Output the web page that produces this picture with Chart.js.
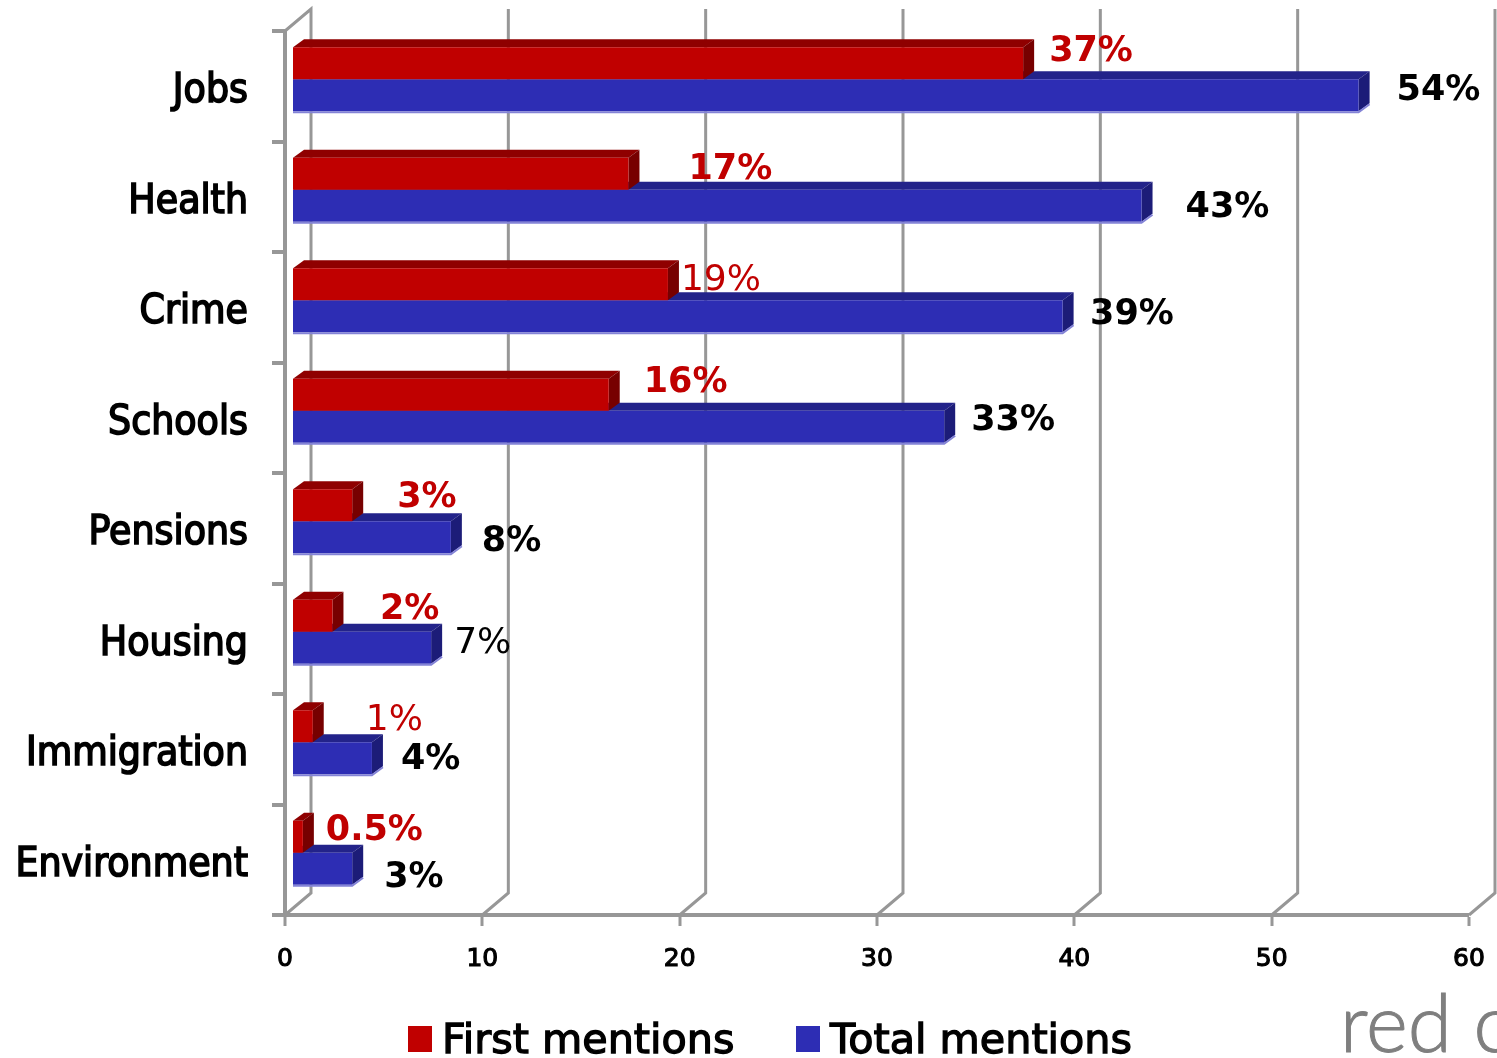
<!DOCTYPE html>
<html>
<head>
<meta charset="utf-8">
<style>
  html, body { margin: 0; padding: 0; background: #fff; overflow: hidden; }
  canvas { display: block; }
</style>
<script src="https://cdn.jsdelivr.net/npm/chart.js@4/dist/chart.umd.min.js"></script>
</head>
<body>
<canvas id="chart" width="1497" height="1058"></canvas>
<script>
// data ........................................................................
const categories = ['Jobs', 'Health', 'Crime', 'Schools', 'Pensions', 'Housing', 'Immigration', 'Environment'];
const firstMentions = [37, 17, 19, 16, 3, 2, 1, 0.5];
const totalMentions = [54, 43, 39, 33, 8, 7, 4, 3];
const xTicks = [0, 10, 20, 30, 40, 50, 60];

// where each value label sits, relative to the tip of its bar
const firstLabelShift = [[34, -18.5], [68, -11], [21, -10.5], [43, -19], [53, -14.5], [55.5, -13], [61, -12.5], [31, -13]];
const totalLabelShift = [[46, -11.5], [52, -5], [35.5, -8.5], [35, -13], [39, -2.5], [31, -11], [37, -5.5], [40, 2]];
const firstLabelPlain = [2, 6];   // these labels are not bold in the original
const totalLabelPlain = [5];

const GREY = '#979797';
const RED = '#c00000';
const BLUE = '#2d2db4';
const BAR_SHIFT = { x: 8, y: -7 };   // bars stand a little behind the front edge
const BAR_DEPTH = { x: 11, y: -8 };
const WALL_DEPTH = { x: 26, y: -22 };

// back wall lines ..............................................................
const wallPlugin = {
  id: 'wall',
  beforeDatasetsDraw(chart) {
    const { ctx, chartArea, scales } = chart;
    ctx.save();
    ctx.lineWidth = 3;
    ctx.strokeStyle = GREY;
    ctx.lineJoin = 'miter';
    xTicks.forEach(function (v) {
      const x = scales.x.getPixelForValue(v);
      ctx.beginPath();
      ctx.moveTo(x, chartArea.bottom);
      ctx.lineTo(x + WALL_DEPTH.x, chartArea.bottom + WALL_DEPTH.y);
      ctx.lineTo(x + WALL_DEPTH.x, chartArea.top + WALL_DEPTH.y);
      if (v === 0) ctx.lineTo(x, chartArea.top);
      ctx.stroke();
    });
    ctx.restore();
  }
};

// 3d faces of the bars .........................................................
const depthPlugin = {
  id: 'depth',
  beforeDatasetDraw(chart, args) {
    const ctx = chart.ctx;
    const dark = args.index === 0
      ? { top: '#8f0000', side: '#770000' }
      : { top: '#23238a', side: '#1c1c78' };
    ctx.save();
    ctx.translate(BAR_SHIFT.x, BAR_SHIFT.y);
    chart.getDatasetMeta(args.index).data.forEach(function (bar) {
      const top = bar.y - bar.height / 2;
      const low = bar.y + bar.height / 2;
      ctx.fillStyle = dark.top;
      ctx.beginPath();
      ctx.moveTo(bar.base, top);
      ctx.lineTo(bar.base + BAR_DEPTH.x, top + BAR_DEPTH.y);
      ctx.lineTo(bar.x + BAR_DEPTH.x, top + BAR_DEPTH.y);
      ctx.lineTo(bar.x, top);
      ctx.closePath();
      ctx.fill();
      ctx.fillStyle = dark.side;
      ctx.beginPath();
      ctx.moveTo(bar.x, top);
      ctx.lineTo(bar.x + BAR_DEPTH.x, top + BAR_DEPTH.y);
      ctx.lineTo(bar.x + BAR_DEPTH.x, low + BAR_DEPTH.y);
      ctx.lineTo(bar.x, low);
      ctx.closePath();
      ctx.fill();
    });
  },
  afterDatasetDraw(chart, args) {
    const ctx = chart.ctx;
    // pale lower edge on the blue bars
    if (args.index === 1) {
      ctx.strokeStyle = '#8383d6';
      ctx.lineWidth = 2;
      chart.getDatasetMeta(1).data.forEach(function (bar) {
        const low = bar.y + bar.height / 2;
        ctx.beginPath();
        ctx.moveTo(bar.base, low + 1);
        ctx.lineTo(bar.x, low + 1);
        ctx.lineTo(bar.x + BAR_DEPTH.x, low + BAR_DEPTH.y + 1);
        ctx.stroke();
      });
    }
    ctx.restore();
  }
};

// value labels .................................................................
function drawValueLabels(chart, index, values, shift, plain, color) {
  const ctx = chart.ctx;
  ctx.textAlign = 'left';
  ctx.textBaseline = 'middle';
  ctx.fillStyle = color;
  chart.getDatasetMeta(index).data.forEach(function (bar, i) {
    const isPlain = plain.indexOf(i) >= 0;
    ctx.font = (isPlain ? '' : 'bold ') + (isPlain ? '36px' : '35px') + ' "DejaVu Sans"';
    ctx.fillText(values[i] + '%', bar.x + shift[i][0], bar.y + shift[i][1]);
  });
}

const labelPlugin = {
  id: 'valueLabels',
  afterDatasetsDraw(chart) {
    const ctx = chart.ctx;
    ctx.save();
    drawValueLabels(chart, 0, firstMentions, firstLabelShift, firstLabelPlain, '#c00000');
    drawValueLabels(chart, 1, totalMentions, totalLabelShift, totalLabelPlain, '#000');
    ctx.restore();
  }
};

// legend and the cut off logo ..................................................
const footerPlugin = {
  id: 'footer',
  afterDraw(chart) {
    const ctx = chart.ctx;
    const places = [{ box: 408, text: 442 }, { box: 796, text: 830 }];
    ctx.save();
    ctx.textAlign = 'left';
    ctx.textBaseline = 'alphabetic';
    chart.data.datasets.forEach(function (ds, i) {
      ctx.fillStyle = ds.backgroundColor;
      ctx.fillRect(places[i].box, 1026, 24, 26);
      ctx.fillStyle = '#000';
      ctx.strokeStyle = '#000';
      ctx.lineWidth = 1.3;
      ctx.font = '41.3px "DejaVu Sans"';
      ctx.fillText(ds.label, places[i].text, 1053);
      ctx.strokeText(ds.label, places[i].text, 1053);
    });
    ctx.fillStyle = '#7f7f7f';
    ctx.strokeStyle = '#7f7f7f';
    ctx.lineWidth = 1;
    ctx.font = '300 80px Lato';
    ctx.fillText('red c', 1340, 1052);
    ctx.strokeText('red c', 1340, 1052);
    ctx.restore();
  }
};

// the scales must not reserve room for half a tick label
function noLabelPadding(scale) {
  scale.paddingTop = 0;
  scale.paddingBottom = 0;
  scale.paddingLeft = 0;
  scale.paddingRight = 0;
}

new Chart(document.getElementById('chart'), {
  type: 'bar',
  data: {
    labels: categories,
    datasets: [
      { label: 'First mentions', data: firstMentions, backgroundColor: RED, clip: false },
      { label: 'Total mentions', data: totalMentions, backgroundColor: BLUE, clip: false }
    ]
  },
  plugins: [wallPlugin, depthPlugin, labelPlugin, footerPlugin],
  options: {
    indexAxis: 'y',
    responsive: false,
    animation: false,
    layout: { autoPadding: false, padding: { top: 31, right: 28, left: 0, bottom: 0 } },
    categoryPercentage: 0.579,
    barPercentage: 1,
    plugins: { legend: { display: false }, tooltip: { enabled: false } },
    scales: {
      x: {
        type: 'linear',
        min: 0,
        max: 60,
        afterFit(scale) { scale.height = 143; noLabelPadding(scale); },
        afterBuildTicks(scale) { scale.ticks = xTicks.map(function (v) { return { value: v }; }); },
        // lineWidth 0 so the bars start at the value 0 and not half a line later
        grid: { drawOnChartArea: false, color: GREY, lineWidth: 0, tickColor: GREY, tickWidth: 3, tickLength: 11 },
        border: { color: GREY, width: 4 },
        ticks: {
          color: '#000',
          padding: 18,
          maxRotation: 0,
          font: { family: '"DejaVu Sans"', size: 25 },
          textStrokeColor: '#000',
          textStrokeWidth: 1.1
        }
      },
      y: {
        type: 'category',
        offset: true,
        afterFit(scale) { scale.width = 285; noLabelPadding(scale); },
        grid: { offset: true, drawOnChartArea: false, color: GREY, lineWidth: 4, tickLength: 13 },
        border: { color: GREY, width: 4 },
        ticks: {
          color: '#000',
          padding: 24,
          autoSkip: false,
          labelOffset: 5.5,
          font: { family: '"DejaVu Sans Condensed"', size: 40.5 },
          textStrokeColor: '#000',
          textStrokeWidth: 1.6
        }
      }
    }
  }
});
</script>
</body>
</html>
